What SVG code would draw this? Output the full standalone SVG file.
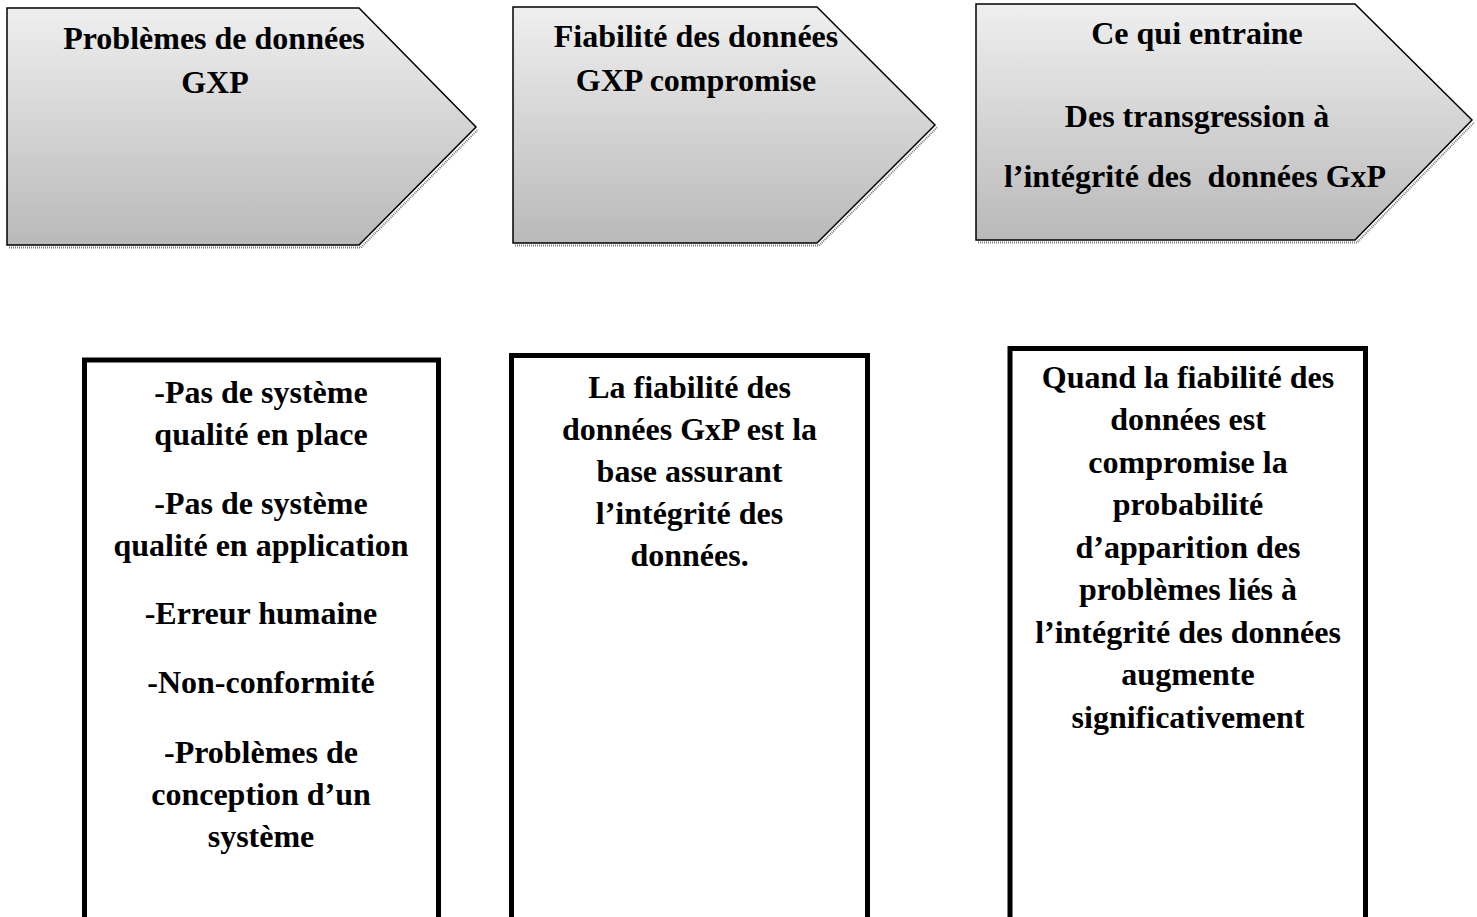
<svg xmlns="http://www.w3.org/2000/svg" width="1477" height="917" viewBox="0 0 1477 917">
  <defs>
    <linearGradient id="grad" x1="0" y1="0" x2="0" y2="1">
      <stop offset="0" stop-color="#efefef"/>
      <stop offset="1" stop-color="#b9b9b9"/>
    </linearGradient>
    <style>
      .arrow { fill: url(#grad); stroke: #000; stroke-width: 1.5; stroke-linejoin: miter; }
      .shadow { fill: none; stroke: #7a7a7a; stroke-width: 2; stroke-dasharray: 1 1; }
      .box { fill: #fff; stroke: #000; stroke-width: 5; }
      text { font-family: "Liberation Serif", "Times New Roman", serif; font-weight: bold; font-size: 32px; fill: #000; text-anchor: middle; }
    </style>
  </defs>
  <rect width="1477" height="917" fill="#fff"/>

  <g id="arrow1">
    <polyline class="shadow" points="9,247.5 361,247.5 478,129.5"/>
    <polygon class="arrow" points="7,8 359,8 476,127 359,245 7,245"/>
    <text x="214" y="49">Problèmes de données</text>
    <text x="215" y="93">GXP</text>
  </g>

  <g id="arrow2">
    <polyline class="shadow" points="515,245.5 819,245.5 937,127.5"/>
    <polygon class="arrow" points="513,7 817,7 935,125 817,243 513,243"/>
    <text x="696" y="47">Fiabilité des données</text>
    <text x="696" y="91">GXP compromise</text>
  </g>

  <g id="arrow3">
    <polyline class="shadow" points="978,242.5 1357,242.5 1474,122.5"/>
    <polygon class="arrow" points="976,4 1355,4 1472,120 1355,240 976,240"/>
    <text x="1197" y="44">Ce qui entraine</text>
    <text x="1197" y="127">Des transgression à</text>
    <text x="1195" y="187" style="white-space:pre">l’intégrité des  données GxP</text>
  </g>

  <g id="box1">
    <rect class="box" x="84.5" y="360" width="354" height="580"/>
    <text x="261" y="403">-Pas de système</text>
    <text x="261" y="445">qualité en place</text>
    <text x="261" y="514">-Pas de système</text>
    <text x="261" y="556">qualité en application</text>
    <text x="261" y="624">-Erreur humaine</text>
    <text x="261" y="693">-Non-conformité</text>
    <text x="261" y="763">-Problèmes de</text>
    <text x="261" y="805">conception d’un</text>
    <text x="261" y="847">système</text>
  </g>

  <g id="box2">
    <rect class="box" x="511.5" y="355.5" width="356" height="585"/>
    <text x="689.5" y="398">La fiabilité des</text>
    <text x="689.5" y="440">données GxP est la</text>
    <text x="689.5" y="482">base assurant</text>
    <text x="689.5" y="524">l’intégrité des</text>
    <text x="689.5" y="566">données.</text>
  </g>

  <g id="box3">
    <rect class="box" x="1010" y="348.5" width="355.5" height="590"/>
    <text x="1188" y="388">Quand la fiabilité des</text>
    <text x="1188" y="430">données est</text>
    <text x="1188" y="472.5">compromise la</text>
    <text x="1188" y="515">probabilité</text>
    <text x="1188" y="557.5">d’apparition des</text>
    <text x="1188" y="600">problèmes liés à</text>
    <text x="1188" y="642.5">l’intégrité des données</text>
    <text x="1188" y="685">augmente</text>
    <text x="1188" y="727.5">significativement</text>
  </g>

  <g id="connectors"/>
</svg>
